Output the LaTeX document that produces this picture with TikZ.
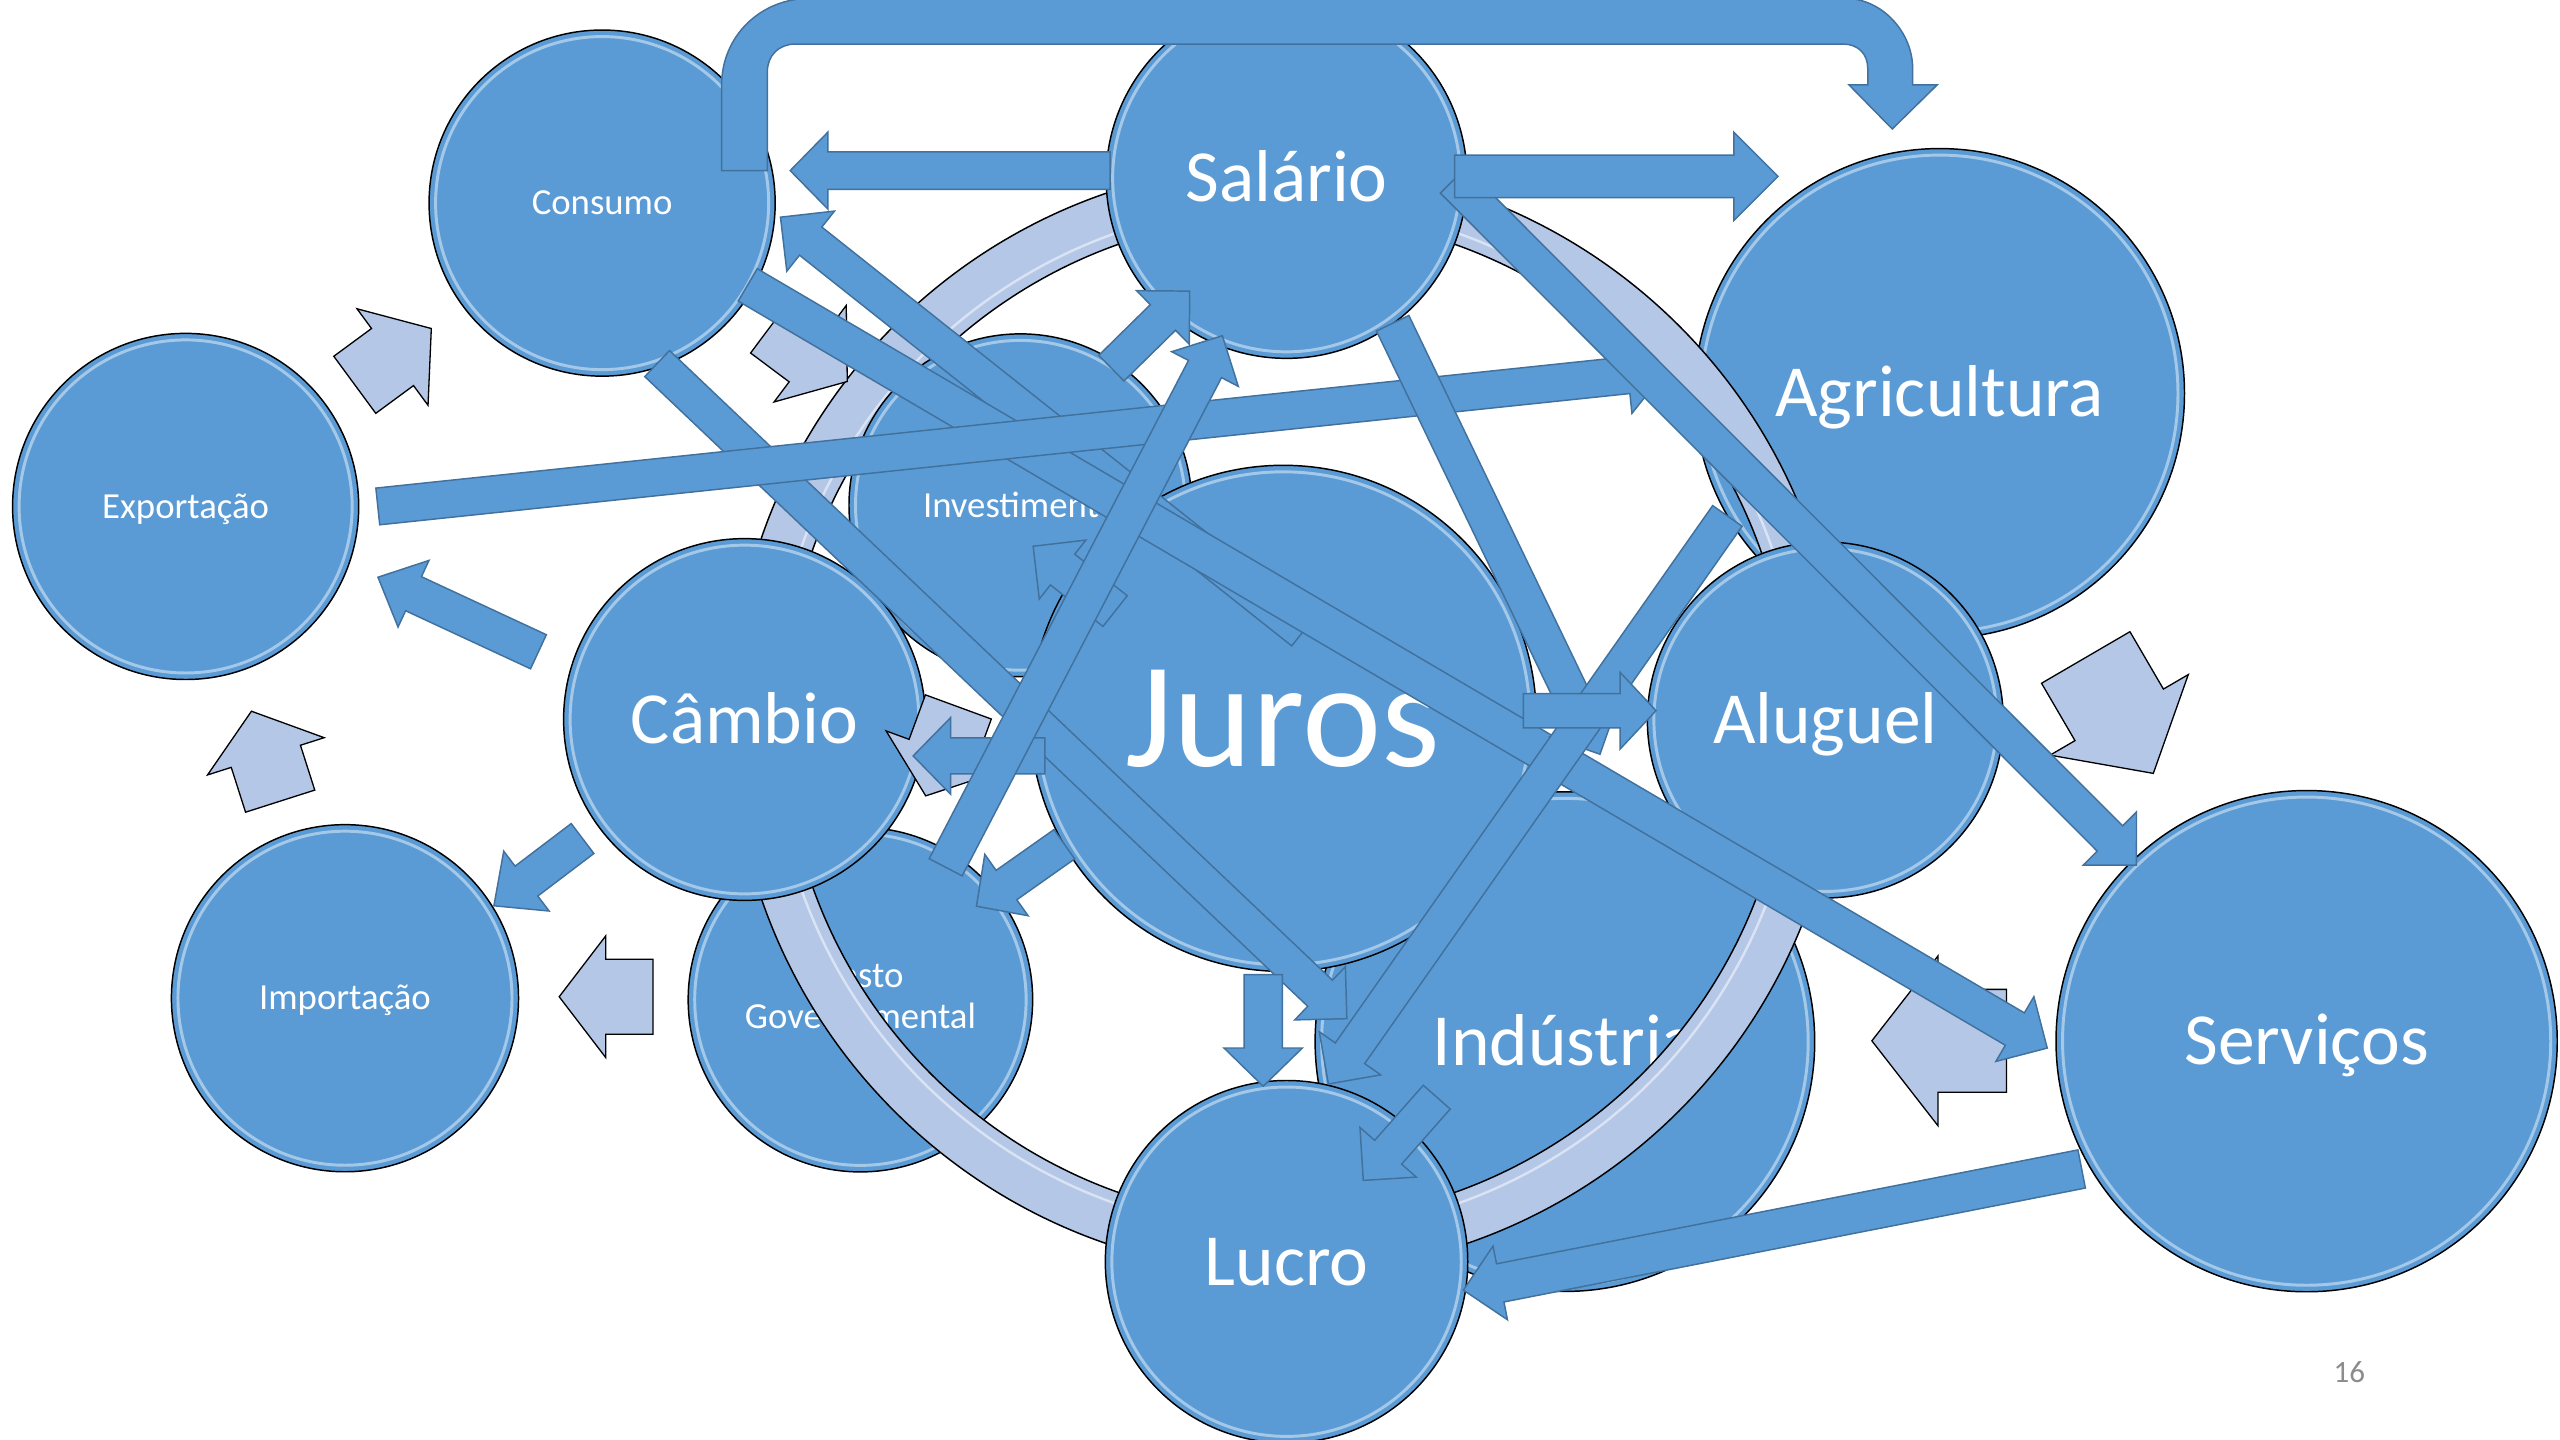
\documentclass[tikz,border=0pt]{standalone}
\usepackage{fontspec}
\setmainfont{Carlito}
\definecolor{cblue}{HTML}{5B9BD5}
\definecolor{cedge}{HTML}{41719C}
\definecolor{clight}{HTML}{B4C7E7}
\definecolor{cgray}{HTML}{8C8C8C}
\tikzset{
  bubble/.style={circle, fill=cblue, draw=black, line width=0.9pt, inner sep=0pt, text=white},
  darr/.style={fill=cblue, draw=cedge, line width=0.9pt, line join=miter},
  larr/.style={fill=clight, draw=black, line width=0.8pt, line join=miter},
  rimline/.style={draw=white, opacity=0.45, line width=1.8pt},
}
% block arrow: style, from, to, shaft width, head width, head length
\newcommand\blockarr[6]{%
  \path (#2); \pgfgetlastxy{\bax}{\bay}%
  \path (#3); \pgfgetlastxy{\bbx}{\bby}%
  \pgfmathsetmacro\bang{atan2(\bby-\bay,\bbx-\bax)}%
  \pgfmathsetmacro\blen{veclen(\bbx-\bax,\bby-\bay)}%
  \begin{scope}[shift={(#2)},rotate=\bang]
    \draw[#1] (0,-#4/2) -- (\blen-#6,-#4/2) -- (\blen-#6,-#5/2) -- (\blen,0)
      -- (\blen-#6,#5/2) -- (\blen-#6,#4/2) -- (0,#4/2) -- cycle;
  \end{scope}}
% bubble: name, x, y, radius, font size, text
\newcommand\bub[6]{%
  \pgfmathsetmacro\bth{#5*0.82}%
  \pgfmathsetmacro\btd{#5*0.18}%
  \node[bubble, minimum size=#4*2pt, font=\fontsize{#5}{#5}\selectfont,
        text height=\bth pt, text depth=\btd pt] (#1) at (#2,#3) {#6};
  \draw[rimline] (#1.center) circle[radius=#4-4];}
\begin{document}
\begin{tikzpicture}[x=1pt,y=-1pt]
\useasboundingbox (0,0) rectangle (1568,882);
\fill[white] (0,0) rectangle (1568,882);

% circles behind the ring
\bub{agri}{1188}{241}{150}{45}{Agricultura}
\node[bubble, minimum size=211pt] (gasto) at (527,612.3) {};
\draw[rimline] (gasto.center) circle[radius=101.5];
\node[text=white, font=\fontsize{22.5}{22.5}\selectfont, anchor=base] (gastoa) at (527,605) {Gasto};
\node[text=white, font=\fontsize{22.5}{22.5}\selectfont, anchor=base] (gastob) at (527,630) {Governamental};
\bub{ind}{958.5}{638}{153}{45}{Indústria}

% ring
\fill[clight, even odd rule] (788,440) circle[radius=340] circle[radius=308];
\draw[black, line width=0.9pt] (788,440) circle[radius=340];
\draw[black, line width=0.9pt] (788,440) circle[radius=308];
\draw[white, opacity=0.5, line width=1.5pt] (788,440) circle[radius=315];

% circles in front
\bub{inv}{625}{309.5}{105}{22.5}{Investimento}
\bub{juros}{786}{440}{155}{92}{Juros}
\bub{sal}{788}{109}{110.5}{45}{Salário}
\bub{cam}{456}{440.7}{110.8}{45}{Câmbio}
\bub{alu}{1118}{441}{109}{45}{Aluguel}
\bub{lucro}{788}{772.8}{111}{45}{Lucro}
\bub{cons}{368.8}{124.4}{106}{22.5}{Consumo}
\bub{exp}{113.7}{310.2}{106}{22.5}{Exportação}
\bub{imp}{211.3}{611.4}{106.3}{22.5}{Importação}
\bub{serv}{1412.8}{637.7}{153.5}{45}{Serviços}

% light cycle arrows
\coordinate (l1s) at (217.3,235.7); \coordinate (l1t) at (264.2,201.2);
\coordinate (l2s) at (171.6,490.7); \coordinate (l2t) at (154,435.6);
\coordinate (l3s) at (400,610.5);   \coordinate (l3t) at (342.5,610.5);
\coordinate (l4s) at (472.6,199);   \coordinate (l4t) at (519,233.7);
\coordinate (l5s) at (587,433);     \coordinate (l5t) at (567,487.5);
\coordinate (l6s) at (1277.5,402.7); \coordinate (l6t) at (1318.9,473.7);
\coordinate (l7s) at (1229,637.5);  \coordinate (l7t) at (1146.5,637.5);
\blockarr{larr}{l1s}{l1t}{43.4}{73.4}{29.5}
\blockarr{larr}{l2s}{l2t}{44.5}{75}{29}
\blockarr{larr}{l3s}{l3t}{46}{74.5}{28.5}
\blockarr{larr}{l4s}{l4t}{43}{73.8}{28.4}
\blockarr{larr}{l5s}{l5t}{43}{73}{29}
\blockarr{larr}{l6s}{l6t}{62.7}{98}{41.5}
\blockarr{larr}{l7s}{l7t}{63}{104}{40.5}

% dark arrows
\coordinate (d1s) at (680,104.5);   \coordinate (d1t) at (484,104.5);
\coordinate (d2s) at (891,108);     \coordinate (d2t) at (1089,108);
\coordinate (d3s) at (890,110.5);   \coordinate (d3t) at (1308.7,530);
\coordinate (d4s) at (853,198);     \coordinate (d4t) at (980,462);
\coordinate (d5s) at (933,435.3);   \coordinate (d5t) at (1014.3,435.3);
\coordinate (d6s) at (231.4,310.2); \coordinate (d6t) at (1020,227.4);
\coordinate (d7s) at (798,387);     \coordinate (d7t) at (478,133);
\coordinate (d8s) at (458,174.5);   \coordinate (d8t) at (1254,642);
\coordinate (d9s) at (402.5,222.7); \coordinate (d9t) at (825,624);
\coordinate (d10s) at (1058,316);   \coordinate (d10t) at (813.6,664);
\coordinate (d11s) at (880,672);    \coordinate (d11t) at (835,723);
\coordinate (d12s) at (1275,716);   \coordinate (d12t) at (896.3,790.2);
\coordinate (d13s) at (773.7,597);  \coordinate (d13t) at (773.7,665.3);
\coordinate (d14s) at (680.7,225.5); \coordinate (d14t) at (728.8,178.2);
\coordinate (d15s) at (579.2,531.2); \coordinate (d15t) at (748.7,205.6);
\coordinate (d16s) at (683,374.3);  \coordinate (d16t) at (632.7,334.5);
\coordinate (d17s) at (640,463);    \coordinate (d17t) at (559.3,463);
\coordinate (d18s) at (651.9,517.1); \coordinate (d18t) at (598,555.1);
\coordinate (d19s) at (329.8,399.2); \coordinate (d19t) at (231.4,353.5);
\coordinate (d20s) at (356.8,513.6); \coordinate (d20t) at (302.5,554.8);

\blockarr{darr}{d9s}{d9t}{22}{45}{22.6}
\blockarr{darr}{d7s}{d7t}{22}{47}{23.6}
\blockarr{darr}{d8s}{d8t}{23}{46}{23}
\blockarr{darr}{d6s}{d6t}{22.6}{47}{23}
\blockarr{darr}{d3s}{d3t}{22}{46}{23}
\blockarr{darr}{d4s}{d4t}{22}{46}{23}
\blockarr{darr}{d10s}{d10t}{22}{46}{23}
\blockarr{darr}{d5s}{d5t}{21}{47}{22}
\blockarr{darr}{d1s}{d1t}{23}{47}{23}
\blockarr{darr}{d2s}{d2t}{26}{54}{27}
\blockarr{darr}{d11s}{d11t}{22}{46}{23}
\blockarr{darr}{d12s}{d12t}{23.8}{46}{23}
\blockarr{darr}{d13s}{d13t}{23.5}{48}{23.4}
\blockarr{darr}{d14s}{d14t}{22}{46}{23}
\blockarr{darr}{d17s}{d17t}{22}{47}{23}
\blockarr{darr}{d16s}{d16t}{24}{46}{23}
\blockarr{darr}{d15s}{d15t}{22.8}{46}{23}
\blockarr{darr}{d18s}{d18t}{22}{46}{22.5}
\blockarr{darr}{d19s}{d19t}{23}{45}{24}
\blockarr{darr}{d20s}{d20t}{23}{46}{25}

% bent arrow Consumo -> Agricultura
\draw[darr] (442,104.5) -- (442,52) .. controls (442,22) and (466,-1) .. (496,-1)
  -- (1130,-1) .. controls (1153,-1) and (1171.5,20) .. (1171.5,42)
  -- (1171.5,52) -- (1186.5,52) -- (1159,79) -- (1132.5,52) -- (1144,52)
  -- (1144,42) .. controls (1144,33) and (1138,27) .. (1129,27)
  -- (487,27) .. controls (477,27) and (470,34) .. (470,44) -- (470,104.5) -- cycle;

% page number
\node[text=cgray, font=\fontsize{19}{19}\selectfont] (pg) at (1439,840.5) {16};
\end{tikzpicture}
\end{document}
